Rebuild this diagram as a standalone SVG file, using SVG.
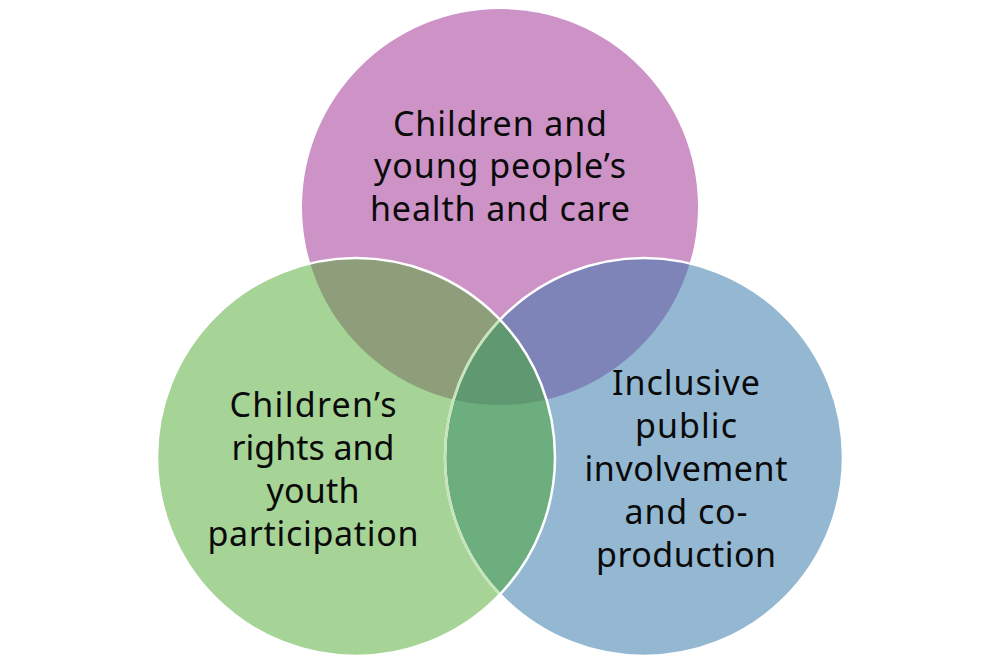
<svg xmlns="http://www.w3.org/2000/svg" width="1000" height="666" viewBox="0 0 1000 666">
<style>
.lbl{font-family:"Noto Sans","Open Sans","DejaVu Sans",sans-serif;font-size:34px;fill:#0a0a0a;text-anchor:middle}
.outline{fill:none;stroke:#ffffff;stroke-width:2.5}
</style>
<defs>
<clipPath id="clipP"><circle cx="500" cy="207" r="198"/></clipPath>
<clipPath id="clipG"><circle cx="356" cy="457" r="199"/></clipPath>
<clipPath id="clipB"><circle cx="644" cy="457" r="199"/></clipPath>
</defs>
<rect width="1000" height="666" fill="#ffffff"/>
<g id="node-health">
<circle cx="500" cy="207" r="198" fill="#CD93C7"/>
</g>
<g id="node-inclusive">
<circle cx="644" cy="457" r="199" fill="#94B8D2"/>
</g>
<g id="node-rights">
<circle cx="356" cy="457" r="199" fill="#A6D396"/>
</g>
<g id="overlaps">
<circle cx="356" cy="457" r="199" fill="#8E9E7A" clip-path="url(#clipP)"/>
<circle cx="644" cy="457" r="199" fill="#7F84B8" clip-path="url(#clipP)"/>
<circle cx="356" cy="457" r="199" fill="#6CAE7E" clip-path="url(#clipB)"/>
<g clip-path="url(#clipB)"><circle cx="356" cy="457" r="199" fill="#609872" clip-path="url(#clipP)"/></g>
</g>
<g id="outlines">
<circle class="outline" cx="644" cy="457" r="199"/>
<circle cx="644" cy="457" r="199" fill="none" stroke="#C6E4BA" stroke-width="2.5" clip-path="url(#clipG)"/>
<circle class="outline" cx="356" cy="457" r="199"/>
</g>
<g id="labels">
<text class="lbl" x="500" y="136" textLength="214">Children and</text>
<text class="lbl" x="500" y="178" textLength="252">young people’s</text>
<text class="lbl" x="500" y="221" textLength="260">health and care</text>
<text class="lbl" x="313" y="417" textLength="167">Children’s</text>
<text class="lbl" x="313" y="460" textLength="163">rights and</text>
<text class="lbl" x="313" y="503" textLength="93">youth</text>
<text class="lbl" x="313" y="546" textLength="211">participation</text>
<text class="lbl" x="686" y="395" textLength="148">Inclusive</text>
<text class="lbl" x="686" y="438" textLength="102">public</text>
<text class="lbl" x="686" y="481" textLength="203">involvement</text>
<text class="lbl" x="686" y="524" textLength="123">and co-</text>
<text class="lbl" x="686" y="567" textLength="180">production</text>
</g>
</svg>
